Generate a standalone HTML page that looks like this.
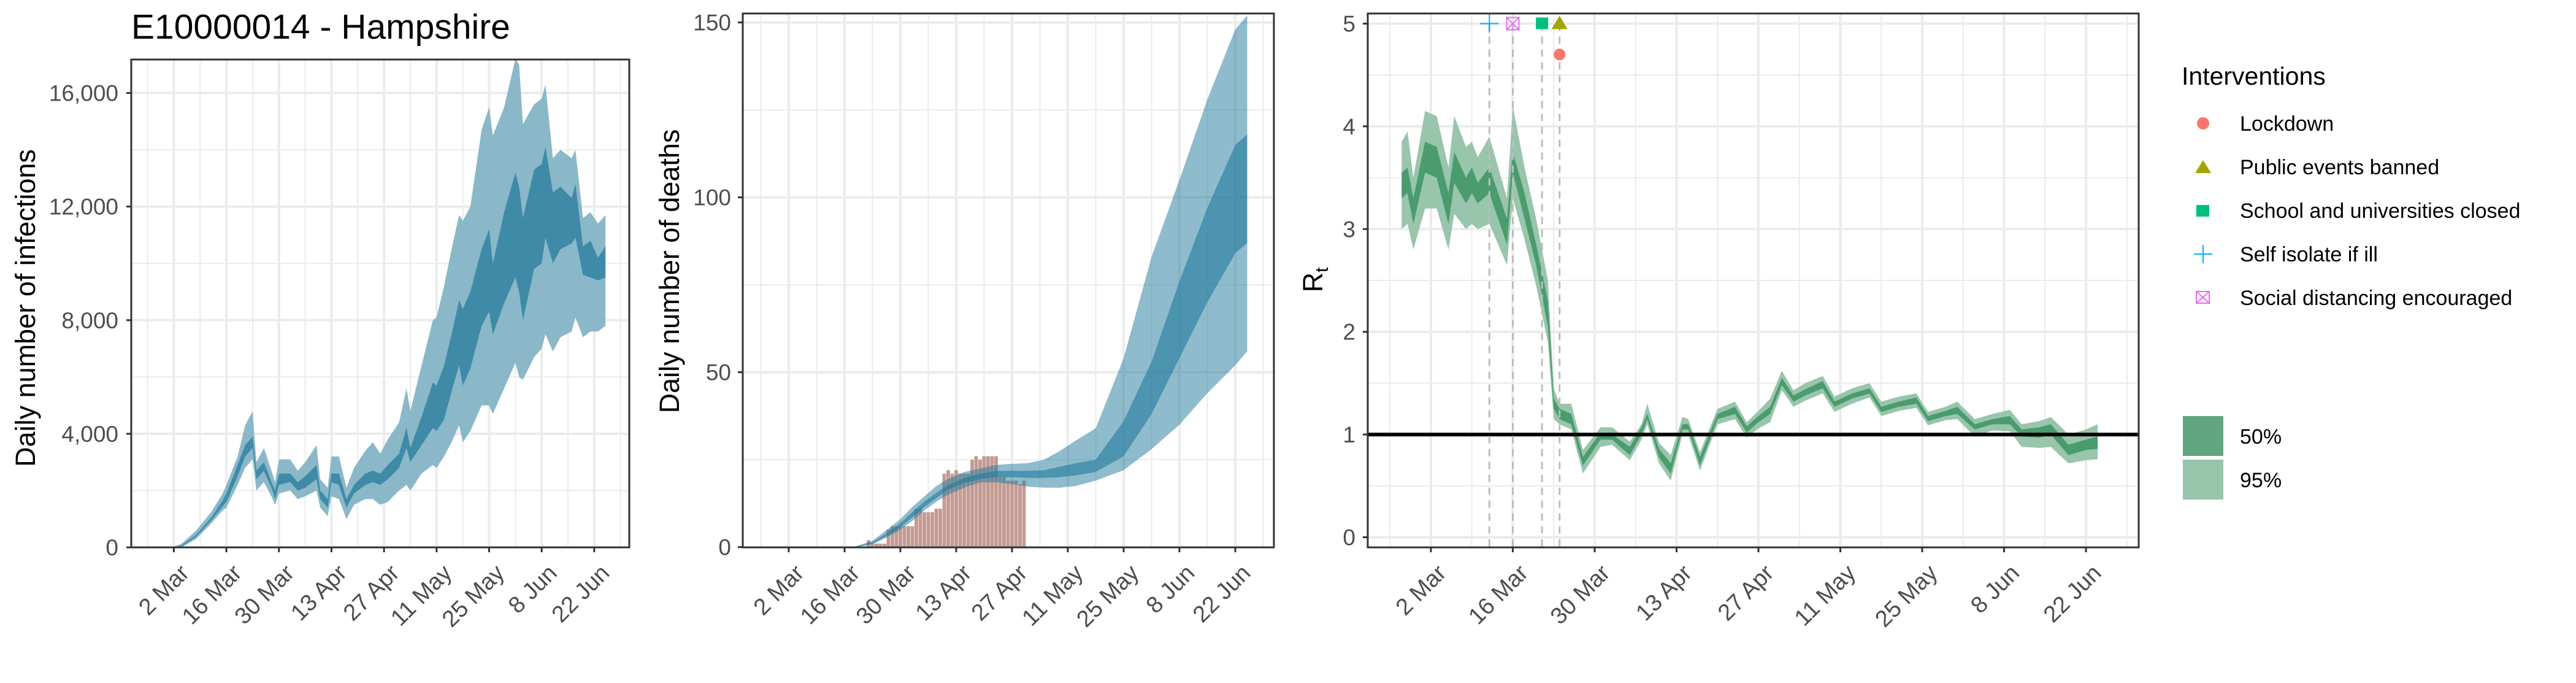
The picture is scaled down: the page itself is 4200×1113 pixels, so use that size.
<!DOCTYPE html>
<html><head><meta charset="utf-8">
<style>
html,body{margin:0;padding:0;background:#fff;}
svg{display:block;font-family:"Liberation Sans",Arial,sans-serif;}
</style></head>
<body>
<svg id="chart" width="4200" height="1113" viewBox="0 0 4200 1113" xmlns="http://www.w3.org/2000/svg">
<rect width="4200" height="1113" fill="#fff"/>
<text x="214" y="63" font-size="57" fill="#000">E10000014 - Hampshire</text>
<g id="p1"></g>
<g id="p2"></g>
<g id="p3"></g>
<g id="legend">
  <text x="3557" y="138" font-size="41" fill="#000">Interventions</text>
  <g>
    <circle cx="3592" cy="201" r="10" fill="#f8766d"/>
    <text x="3652" y="213" font-size="34" fill="#000">Lockdown</text>
  </g>
  <g>
    <polygon points="3579,282 3605,282 3592,261" fill="#a3a500"/>
    <text x="3652" y="284" font-size="34" fill="#000">Public events banned</text>
  </g>
  <g>
    <rect x="3581" y="334" width="21" height="19" fill="#00bf7d"/>
    <text x="3652" y="355" font-size="34" fill="#000">School and universities closed</text>
  </g>
  <g>
    <line x1="3577" y1="414" x2="3607" y2="414" stroke="#00b0f6" stroke-width="2"/>
    <line x1="3592" y1="399" x2="3592" y2="429" stroke="#00b0f6" stroke-width="2"/>
    <text x="3652" y="426" font-size="34" fill="#000">Self isolate if ill</text>
  </g>
  <g>
    <rect x="3581" y="475" width="21" height="19" fill="none" stroke="#e76bf3" stroke-width="2"/>
    <line x1="3581" y1="475" x2="3602" y2="494" stroke="#e76bf3" stroke-width="2"/>
    <line x1="3602" y1="475" x2="3581" y2="494" stroke="#e76bf3" stroke-width="2"/>
    <text x="3652" y="497" font-size="34" fill="#000">Social distancing encouraged</text>
  </g>
  <g>
    <rect x="3559" y="678" width="66" height="65" fill="#62a67f"/>
    <text x="3652" y="723" font-size="34" fill="#000">50%</text>
  </g>
  <g>
    <rect x="3559" y="749" width="66" height="65" fill="#98c4ac"/>
    <text x="3652" y="794" font-size="34" fill="#000">95%</text>
  </g>
</g>
</svg>
<script>
// ---- shared ----
const tickDays = [0,14,28,42,56,70,84,98,112];
const tickLabels = ["2 Mar","16 Mar","30 Mar","13 Apr","27 Apr","11 May","25 May","8 Jun","22 Jun"];

// ---- infections ----
const infDays = [-5,0,2,6,10,13,14,17,19,21,22,24,26,27,28,31,33,35,38,39,41,42,44,46,48,51,53,55,57,60,62,63,66,69,70,72,74,76,77,79,82,84,85,88,91,92,93,96,98,99,101,103,106,107,109,111,113,115];
const infLo95 = [0,0,0,300,850,1300,1400,2200,2800,3100,2000,2300,1800,1500,1900,2000,1700,1800,2000,1400,1100,1800,1700,1000,1500,1700,1700,1500,1600,2000,2200,2000,2600,2900,2800,3200,3700,4300,3700,4100,5000,5000,4700,5600,6500,6000,5900,6700,7000,7500,6900,7400,7600,8100,7400,7600,7600,7800];
const infLo50 = [0,0,20,380,950,1450,1600,2500,3200,3500,2400,2700,2100,1700,2200,2300,2000,2100,2400,1700,1400,2300,2200,1400,1900,2200,2300,2200,2400,2800,3500,3000,3600,4200,4100,4500,5500,6400,5700,6300,7800,8300,7500,8600,9500,9000,8000,9800,10000,10900,10000,10500,10700,10900,9600,9500,9400,9500];
const infHi50 = [0,10,60,450,1050,1650,1900,2900,3600,3900,2700,3000,2300,2000,2600,2600,2300,2500,2900,2000,1700,2600,2600,1700,2200,2600,2700,2600,2900,3300,4200,3500,4600,5800,5700,6400,7500,8700,8400,9000,10500,11200,10000,11800,13200,12700,11600,13300,13500,14100,12500,12700,12300,12800,10600,10800,10200,10600];
const infHi95 = [0,30,120,600,1250,1900,2200,3200,4300,4800,3000,3500,2700,2300,3100,3100,2700,3000,3600,2400,2100,3200,3200,2100,2800,3400,3700,3300,3800,4400,5600,4800,6400,8000,8100,9200,10500,11700,11500,12000,14700,15500,14500,15500,17200,17000,14900,15600,15800,16300,13700,14000,13700,14000,11600,11800,11400,11700];
const infTicks = [0,4000,8000,12000,16000];
const infTickLabels = ["0","4,000","8,000","12,000","16,000"];
const infMinor = [2000,6000,10000,14000];

// ---- deaths ----
const dthDays = [16,18,21,25,28,31,34,37,40,44,48,52,56,60,64,68,72,77,84,91,98,105,112,115];
const dthLo95 = [0,0.2,0.8,3,5,7.5,10.5,13,15,17,18.5,18.5,18,17.3,17,17,17.5,19,22,28,35,44,52,56];
const dthLo50 = [0,0.3,1,3.5,5.7,8.5,11.5,14,16.5,18.3,19.5,20,20,19.8,19.8,20,20.5,21.5,26,38,54,70,84,87];
const dthHi50 = [0,0.5,1.4,4.3,6.8,10,13,15.5,17.8,19.8,21,21.8,21.8,21.8,22,23,24,25,36,53,76,97,115,118];
const dthHi95 = [0,0.7,1.8,5.3,8,11.5,14.5,17.5,19.5,21.5,22.5,23.5,23.8,24,25,27.5,30.5,34,54,83,105,128,148,152];
const obsStartDay = 20;
const obsDeaths = [2,1,1,1,1,5,6,6,6,6,6,6,11,11,10,10,10,11,11,21,22,21,22,21,21,21,25,26,25,26,26,26,26,20,20,19,19,19,18,19];
const dthTicks = [0,50,100,150];
const dthTickLabels = ["0","50","100","150"];
const dthMinor = [25,75,125];

// ---- Rt ----
const rtDays = [-5,-4,-3,-1,1,3,4,6,7,8,10,13,14,16,18,20,21,22,24,26,29,31,34,36,37,39,41,43,44,46,49,52,54,56,58,60,62,64,67,69,72,75,77,80,83,85,88,90,93,96,99,101,104,106,109,112,114];
const rtLo95 = [3.0,3.05,2.8,3.2,3.2,2.8,3.15,3.0,3.05,3.0,3.05,2.65,3.3,2.9,2.45,1.9,1.15,1.1,1.05,0.62,0.88,0.9,0.75,0.95,1.1,0.72,0.55,1.0,1.0,0.65,1.1,1.15,0.97,1.06,1.12,1.43,1.27,1.33,1.4,1.22,1.3,1.36,1.18,1.23,1.26,1.09,1.14,1.15,0.98,1.04,1.03,0.88,0.87,0.88,0.72,0.75,0.76];
const rtLo50 = [3.3,3.35,3.05,3.55,3.5,3.05,3.45,3.25,3.35,3.25,3.35,2.85,3.55,3.1,2.65,2.05,1.25,1.15,1.1,0.7,0.95,0.95,0.8,1.0,1.15,0.78,0.62,1.05,1.05,0.7,1.15,1.2,1.02,1.12,1.2,1.48,1.32,1.38,1.45,1.27,1.35,1.4,1.22,1.27,1.3,1.13,1.18,1.2,1.05,1.1,1.1,0.98,0.97,1.0,0.8,0.85,0.86];
const rtHi50 = [3.55,3.6,3.3,3.85,3.8,3.35,3.75,3.5,3.6,3.45,3.6,3.1,3.75,3.35,2.85,2.3,1.35,1.25,1.2,0.78,1.02,1.0,0.88,1.07,1.2,0.86,0.72,1.1,1.1,0.78,1.2,1.27,1.08,1.18,1.27,1.55,1.38,1.44,1.52,1.32,1.4,1.45,1.27,1.32,1.36,1.18,1.23,1.27,1.1,1.15,1.18,1.05,1.07,1.1,0.9,0.95,0.98];
const rtHi95 = [3.85,3.95,3.5,4.15,4.1,3.6,4.1,3.8,3.85,3.7,3.9,3.3,4.2,3.6,3.1,2.5,1.45,1.3,1.3,0.85,1.07,1.07,0.93,1.1,1.3,0.92,0.8,1.17,1.15,0.83,1.25,1.32,1.12,1.23,1.35,1.62,1.43,1.5,1.57,1.37,1.45,1.5,1.32,1.37,1.4,1.22,1.27,1.32,1.15,1.2,1.24,1.1,1.13,1.17,1.0,1.05,1.1];
const rtTicks = [0,1,2,3,4,5];
const rtTickLabels = ["0","1","2","3","4","5"];
const rtMinor = [0.5,1.5,2.5,3.5,4.5];
const intvNames = ["self-isolate","social-distancing","schools-closed","public-events","lockdown"];
const intvDays = [10,14,19,22,22];
const intvValues = [5,5,5,5,4.7];

const NS = "http://www.w3.org/2000/svg";
function mk(parent, tag, attrs){
  const e = document.createElementNS(NS, tag);
  for (const k in attrs) e.setAttribute(k, attrs[k]);
  parent.appendChild(e);
  return e;
}

function panel(g, id, box, xf, yf, yTicks, yLabels, yMinor, labelRight){
  const [L,T,R,B] = box;
  const clip = mk(g, "clipPath", {id: id+"-clip"});
  mk(clip, "rect", {x:L, y:T, width:R-L, height:B-T});
  const grid = mk(g, "g", {"clip-path":"url(#"+id+"-clip)"});
  
  
  yMinor.forEach(v => mk(grid, "line", {x1:L, x2:R, y1:yf(v), y2:yf(v), stroke:"#ebebeb", "stroke-width":2}));
  for (let d = -7; d <= 126; d += 14) mk(grid, "line", {x1:xf(d), x2:xf(d), y1:T, y2:B, stroke:"#ebebeb", "stroke-width":2});
  yTicks.forEach(v => mk(grid, "line", {x1:L, x2:R, y1:yf(v), y2:yf(v), stroke:"#ebebeb", "stroke-width":4}));
  tickDays.forEach(d => mk(grid, "line", {x1:xf(d), x2:xf(d), y1:T, y2:B, stroke:"#ebebeb", "stroke-width":4}));
  const plot = mk(g, "g", {"clip-path":"url(#"+id+"-clip)"});
  yTicks.forEach((v,i) => {
    mk(g, "line", {x1:L-8, x2:L, y1:yf(v), y2:yf(v), stroke:"#333", "stroke-width":3});
    const t = mk(g, "text", {x:labelRight, y:yf(v)+13, "text-anchor":"end", "font-size":37, fill:"#4d4d4d"});
    
    
    t.textContent = yLabels[i];
  });
  tickDays.forEach((d,i) => {
    const x = xf(d);
    mk(g, "line", {x1:x, x2:x, y1:B, y2:B+8, stroke:"#333", "stroke-width":3});
    const tx = x + 27, ty = B + 44;
    const t = mk(g, "text", {x:tx, y:ty, "text-anchor":"end", "font-size":38, fill:"#4d4d4d", transform:"rotate(-45 "+tx+" "+ty+")"});
    
    
    t.textContent = tickLabels[i];
  });
  return {plot, border: () => mk(g, "rect", {x:L, y:T, width:R-L, height:B-T, fill:"none", stroke:"#333", "stroke-width":3})};
}

function band(parent, days, lo, hi, xf, yf, fill, name){
  const pts = [];
  days.forEach((d,i) => pts.push(xf(d).toFixed(1)+","+yf(hi[i]).toFixed(1)));
  for (let i = days.length-1; i >= 0; i--) pts.push(xf(days[i]).toFixed(1)+","+yf(lo[i]).toFixed(1));
  const p = mk(parent, "polygon", {points: pts.join(" "), fill: fill});
  
  
  return p;
}

function yTitleText(g, x, y, txt, name){
  const t = mk(g, "text", {x:x, y:y, "text-anchor":"middle", "font-size":45, fill:"#000", transform:"rotate(-90 "+x+" "+y+")"});
  
  
  t.textContent = txt;
  return t;
}

// ---- Panel 1: infections ----
{
  const g = document.getElementById("p1");
  const xf = d => 283.4 + d*6.12;
  const yf = v => 892 - v*(740.5/16000);
  const P = panel(g, "p1", [214,97,1026,892], xf, yf, infTicks, infTickLabels, infMinor, 193);
  band(P.plot, infDays, infLo95, infHi95, xf, yf, "#8ab8c9", "infections-95-band");
  band(P.plot, infDays, infLo50, infHi50, xf, yf, "#3f8ba7", "infections-50-band");
  P.border();
  yTitleText(g, 57, 502, "Daily number of infections", "y-axis-title-infections");
}

// ---- Panel 2: deaths ----
{
  const g = document.getElementById("p2");
  const xf = d => 1286 + d*6.5;
  const yf = v => 891.6 - v*5.70;
  const P = panel(g, "p2", [1211,22,2077,892], xf, yf, dthTicks, dthTickLabels, dthMinor, 1192);
  obsDeaths.forEach((v,i) => {
    const d = obsStartDay + i;
    const r = mk(P.plot, "rect", {x:xf(d)-2.9, y:yf(v), width:5.8, height:yf(0)-yf(v), fill:"#c49a93"});
    
    
  });
  const b95 = band(P.plot, dthDays, dthLo95, dthHi95, xf, yf, "#1f7a9c", "deaths-95-band");
  b95.setAttribute("fill-opacity", "0.5");
  const b50 = band(P.plot, dthDays, dthLo50, dthHi50, xf, yf, "#1f7a9c", "deaths-50-band");
  b50.setAttribute("fill-opacity", "0.6");
  P.border();
  yTitleText(g, 1107, 442, "Daily number of deaths", "y-axis-title-deaths");
}

// ---- Panel 3: Rt ----
{
  const g = document.getElementById("p3");
  const xf = d => 2333 + d*9.536;
  const yf = v => 875.5 - v*167.4;
  const P = panel(g, "p3", [2230,22,3487,892], xf, yf, rtTicks, rtTickLabels, rtMinor, 2210);
  band(P.plot, rtDays, rtLo95, rtHi95, xf, yf, "#98c5ab", "rt-95-band");
  band(P.plot, rtDays, rtLo50, rtHi50, xf, yf, "#4a9b6d", "rt-50-band");
  const ref = mk(P.plot, "line", {x1:2230, x2:3487, y1:yf(1), y2:yf(1), stroke:"#000", "stroke-width":6});
  
  
  const seen = {};
  intvDays.forEach((d,i) => {
    if (seen[d]) return; seen[d] = 1;
    const l = mk(P.plot, "line", {x1:xf(d), x2:xf(d), y1:yf(5), y2:892, stroke:"#bdbdbd", "stroke-width":3, "stroke-dasharray":"12,9"});
    
    
  });
  intvDays.forEach((d,i) => {
    const x = xf(d), y = yf(intvValues[i]);
    const m = mk(g, "g", {});
    
    
    const n = intvNames[i];
    if (n === "self-isolate") {
      mk(m, "line", {x1:x-15, x2:x+15, y1:y, y2:y, stroke:"#00b0f6", "stroke-width":2});
      mk(m, "line", {x1:x, x2:x, y1:y-15, y2:y+15, stroke:"#00b0f6", "stroke-width":2});
    } else if (n === "social-distancing") {
      mk(m, "rect", {x:x-10, y:y-10, width:20, height:20, fill:"none", stroke:"#e76bf3", "stroke-width":2});
      mk(m, "line", {x1:x-10, x2:x+10, y1:y-10, y2:y+10, stroke:"#e76bf3", "stroke-width":2});
      mk(m, "line", {x1:x+10, x2:x-10, y1:y-10, y2:y+10, stroke:"#e76bf3", "stroke-width":2});
    } else if (n === "schools-closed") {
      mk(m, "rect", {x:x-10, y:y-10, width:20, height:19, fill:"#00bf7d"});
    } else if (n === "public-events") {
      mk(m, "polygon", {points:(x-13)+","+(y+9)+" "+(x+13)+","+(y+9)+" "+x+","+(y-13), fill:"#a3a500"});
    } else {
      mk(m, "circle", {cx:x, cy:y, r:9.5, fill:"#f8766d"});
    }
  });
  P.border();
  const t = mk(g, "text", {x:2142, y:470, "text-anchor":"middle", "font-size":45, fill:"#000", transform:"rotate(-90 2142 456)"});
  
  
  t.appendChild(document.createTextNode("R"));
  const s = mk(t, "tspan", {"font-size":30, dy:9});
  s.textContent = "t";
}
</script>
</body></html>
